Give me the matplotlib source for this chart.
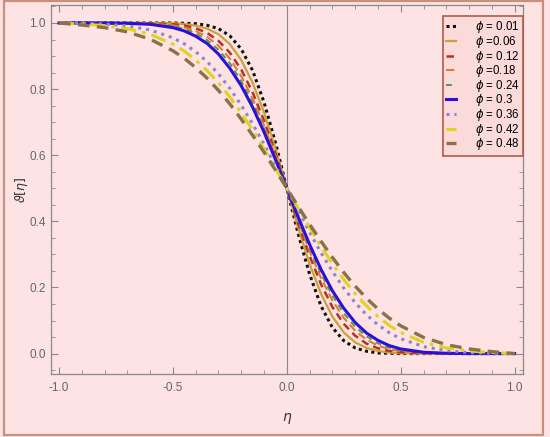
import matplotlib
matplotlib.use("Agg")
import matplotlib.pyplot as plt
from matplotlib.patches import Rectangle
from matplotlib.ticker import MultipleLocator, FormatStrFormatter

plt.rcParams['font.family'] = ['Liberation Sans', 'DejaVu Sans']

eta = [-1.0, -0.9, -0.8, -0.7, -0.6, -0.5, -0.45, -0.4, -0.35, -0.3, -0.25, -0.2, -0.15, -0.1, -0.05,
       0.0, 0.05, 0.1, 0.15, 0.2, 0.25, 0.3, 0.35, 0.4, 0.45, 0.5, 0.6, 0.7, 0.8, 0.9, 1.0]

phi_labels = ["$\\phi$ = 0.01", "$\\phi$ =0.06", "$\\phi$ = 0.12", "$\\phi$ =0.18", "$\\phi$ = 0.24",
              "$\\phi$ = 0.3", "$\\phi$ = 0.36", "$\\phi$ = 0.42", "$\\phi$ = 0.48"]

theta_001 = [1, 1, 1, 1, 1, 1, 0.999, 0.998, 0.993, 0.983, 0.961, 0.921, 0.856, 0.760, 0.638,
             0.5, 0.362, 0.240, 0.144, 0.079, 0.039, 0.017, 0.007, 0.002, 0.001, 0, 0, 0, 0, 0, 0]
theta_006 = [1, 1, 1, 1, 1, 0.999, 0.997, 0.992, 0.983, 0.966, 0.936, 0.888, 0.819, 0.729, 0.620,
             0.5, 0.380, 0.271, 0.181, 0.112, 0.064, 0.034, 0.017, 0.008, 0.003, 0.001, 0, 0, 0, 0, 0]
theta_012 = [1, 1, 1, 1, 0.999, 0.996, 0.992, 0.984, 0.970, 0.946, 0.910, 0.859, 0.790, 0.704, 0.606,
             0.5, 0.394, 0.296, 0.210, 0.141, 0.090, 0.054, 0.030, 0.016, 0.008, 0.004, 0.001, 0, 0, 0, 0]
theta_018 = [1, 1, 1, 1, 0.998, 0.993, 0.987, 0.976, 0.958, 0.931, 0.892, 0.839, 0.771, 0.690, 0.598,
             0.5, 0.402, 0.310, 0.229, 0.161, 0.108, 0.069, 0.042, 0.024, 0.013, 0.007, 0.002, 0, 0, 0, 0]
theta_024 = [1, 1, 1, 0.999, 0.997, 0.990, 0.982, 0.969, 0.948, 0.919, 0.878, 0.824, 0.758, 0.680, 0.592,
             0.5, 0.408, 0.320, 0.242, 0.176, 0.122, 0.081, 0.052, 0.031, 0.018, 0.010, 0.003, 0.001, 0, 0, 0]
theta_030 = [1, 1, 1, 0.999, 0.996, 0.986, 0.976, 0.960, 0.938, 0.906, 0.863, 0.810, 0.745, 0.670, 0.587,
             0.5, 0.413, 0.330, 0.255, 0.190, 0.137, 0.094, 0.062, 0.040, 0.024, 0.014, 0.004, 0.001, 0, 0, 0]
theta_036 = [1, 0.999, 0.997, 0.991, 0.979, 0.955, 0.937, 0.913, 0.883, 0.846, 0.802, 0.751, 0.695, 0.633, 0.567,
             0.5, 0.433, 0.367, 0.305, 0.249, 0.198, 0.154, 0.117, 0.087, 0.063, 0.045, 0.021, 0.009, 0.003, 0.001, 0]
theta_042 = [1, 0.997, 0.992, 0.983, 0.966, 0.936, 0.915, 0.888, 0.856, 0.819, 0.776, 0.728, 0.676, 0.619, 0.560,
             0.5, 0.440, 0.381, 0.324, 0.272, 0.224, 0.181, 0.144, 0.112, 0.085, 0.064, 0.034, 0.017, 0.008, 0.003, 0]
theta_048 = [1, 0.994, 0.986, 0.973, 0.951, 0.916, 0.893, 0.865, 0.833, 0.796, 0.755, 0.709, 0.660, 0.609, 0.555,
             0.5, 0.445, 0.391, 0.340, 0.291, 0.245, 0.204, 0.167, 0.135, 0.107, 0.084, 0.049, 0.027, 0.014, 0.006, 0]

series = [theta_001, theta_006, theta_012, theta_018, theta_024,
          theta_030, theta_036, theta_042, theta_048]

styles = [
    dict(color='#111111', ls=(0, (1, 1.1)), lw=2.2),
    dict(color='#c9a23c', ls='-', lw=1.6),
    dict(color='#b83020', ls=(0, (3, 2)), lw=1.8),
    dict(color='#e07a3a', ls=(0, (4, 2)), lw=1.5),
    dict(color='#4f9a48', ls=(0, (3, 2.5)), lw=1.4),
    dict(color='#2a10d8', ls='-', lw=2.2),
    dict(color='#8686d6', ls=(0, (1, 1.6)), lw=2.2),
    dict(color='#e2d21e', ls=(0, (5, 2, 1.2, 2)), lw=2.2),
    dict(color='#8c7048', ls=(0, (3.5, 2.2)), lw=2.4),
]

bg = '#fde3e3'
fig = plt.figure(figsize=(5.5, 4.37), dpi=100, facecolor=bg)
ax = fig.add_axes([0.092, 0.144, 0.859, 0.845], facecolor=bg)

ax.axvline(0, color='#8a8a8a', lw=0.8, zorder=1)
for y, st, lab in zip(series, styles, phi_labels):
    ax.plot(eta, y, label=lab, zorder=3, **st)

ax.set_xlim(-1.037, 1.037)
ax.set_ylim(-0.062, 1.055)
ax.xaxis.set_major_locator(MultipleLocator(0.5))
ax.xaxis.set_minor_locator(MultipleLocator(0.1))
ax.yaxis.set_major_locator(MultipleLocator(0.2))
ax.yaxis.set_minor_locator(MultipleLocator(0.05))
ax.tick_params(which='both', direction='in', top=True, right=True,
               color='#8a8a8a', labelcolor='#666666', labelsize=8.5)
ax.tick_params(which='major', length=5, width=0.8)
ax.tick_params(axis='x', pad=6)
ax.tick_params(which='minor', length=3, width=0.6)
ax.xaxis.set_major_formatter(FormatStrFormatter('%.1f'))
ax.yaxis.set_major_formatter(FormatStrFormatter('%.1f'))
for s in ax.spines.values():
    s.set_color('#8a8a8a')
    s.set_linewidth(0.9)

fig.text(287 / 550, 1 - 418 / 437, '$\\eta$', ha='center', va='center', fontsize=10, color='#333333')
fig.text(21 / 550, 1 - 190 / 437, '$\\vartheta[\\eta]$', ha='center', va='center',
         rotation=90, fontsize=9, color='#333333')

leg = ax.legend(loc='upper right', bbox_to_anchor=(1.0, 0.97), borderaxespad=0,
                fontsize=8.3, handlelength=0.9, handletextpad=1.6, labelspacing=-0.12,
                borderpad=0.3, fancybox=False, framealpha=1)
leg.get_frame().set_edgecolor('#b05a4a')
leg.get_frame().set_facecolor('#fbdada')
leg.get_frame().set_linewidth(1.2)

fig.patches.append(Rectangle((4 / 550, 1 - 435 / 437), 539 / 550, 434 / 437,
                             transform=fig.transFigure, fill=False,
                             edgecolor='#c8907a', lw=1.6))

fig.savefig('out.png', dpi=100, facecolor=bg)
